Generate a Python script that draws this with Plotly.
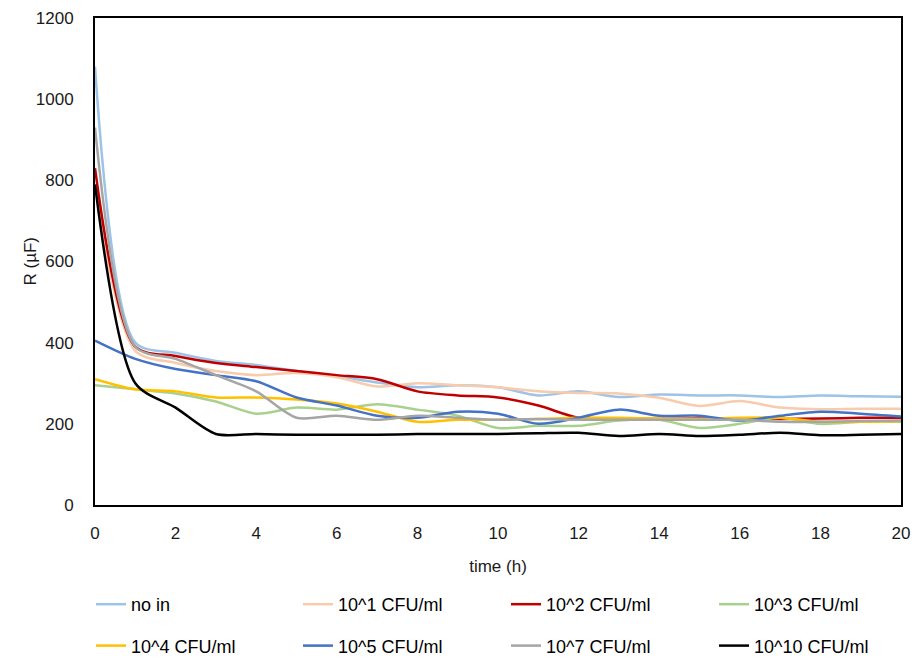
import plotly.graph_objects as go

time_h = list(range(0, 21))

no_in   = [1080, 400, 375, 355, 345, 330, 318, 302, 290, 295, 290, 270, 280, 266, 272, 270, 270, 266, 270, 268, 267]
cfu_1   = [790, 380, 350, 330, 320, 325, 315, 292, 300, 295, 290, 280, 276, 275, 264, 244, 256, 240, 236, 237, 237]
cfu_2   = [830, 390, 367, 350, 340, 330, 320, 310, 280, 270, 265, 245, 215, 213, 212, 213, 212, 212, 213, 215, 215]
cfu_3   = [295, 285, 275, 255, 225, 240, 235, 248, 235, 220, 190, 195, 195, 208, 210, 190, 200, 215, 200, 205, 205]
cfu_4   = [310, 285, 280, 265, 265, 260, 250, 230, 205, 210, 210, 212, 215, 215, 213, 212, 215, 215, 205, 205, 207]
cfu_5   = [405, 360, 335, 320, 305, 265, 245, 220, 215, 230, 225, 200, 215, 235, 220, 220, 208, 220, 230, 225, 218]
cfu_7   = [930, 390, 360, 320, 280, 215, 220, 210, 220, 215, 210, 212, 210, 210, 210, 210, 210, 205, 205, 207, 208]
cfu_10  = [790, 300, 240, 175, 175, 173, 173, 173, 175, 175, 175, 177, 178, 170, 175, 170, 173, 178, 172, 173, 175]

names = ["no in", "10^1 CFU/ml", "10^2 CFU/ml", "10^3 CFU/ml",
         "10^4 CFU/ml", "10^5 CFU/ml", "10^7 CFU/ml", "10^10 CFU/ml"]
series = [no_in, cfu_1, cfu_2, cfu_3, cfu_4, cfu_5, cfu_7, cfu_10]
colors = ["#9DC3E6", "#F8CBAD", "#C00000", "#A9D18E",
          "#FFC000", "#4472C4", "#A5A5A5", "#000000"]

# legend column placement (container pixels): line start x per column, block centre y
leg_cols = [96, 303, 511, 719]
leg_mid_y = 625

font = dict(family="Liberation Sans, Arial, sans-serif", size=17, color="#1a1a1a")
titlefont = dict(family="Liberation Sans, Arial, sans-serif", size=17, color="#1a1a1a")
legfont = dict(family="Liberation Sans, Arial, sans-serif", size=18, color="#000000")

fig = go.Figure()
layout_legends = {}
for i, (n, s, c) in enumerate(zip(names, series, colors)):
    col = i % 4
    key = "legend" if col == 0 else f"legend{col + 1}"
    fig.add_trace(go.Scatter(
        x=time_h, y=s, name=n, mode="lines",
        line=dict(color=c, width=2.5, shape="spline", smoothing=0.8),
        legend=key, legendgroup=f"g{i}",
    ))
    if key not in layout_legends:
        layout_legends[key] = dict(
            x=(leg_cols[col] - 5) / 916, xref="container", xanchor="left",
            y=1 - leg_mid_y / 657, yref="container", yanchor="middle",
            orientation="v", tracegroupgap=15,
            font=legfont, bgcolor="rgba(0,0,0,0)", itemwidth=30,
        )

fig.update_layout(
    width=916, height=657,
    margin=dict(l=95, r=15, t=18, b=152, autoexpand=False),
    plot_bgcolor="white", paper_bgcolor="white",
    font=font,
    xaxis=dict(range=[0, 20], dtick=2, showgrid=False, zeroline=False,
               showline=True, linecolor="black", linewidth=2, mirror=True,
               ticks="outside", ticklen=12, tickcolor="rgba(0,0,0,0)",
               title=dict(text="time (h)", font=titlefont, standoff=18),
               tickfont=font),
    yaxis=dict(range=[0, 1200], dtick=200, showgrid=False, zeroline=False,
               showline=True, linecolor="black", linewidth=2, mirror=True,
               ticks="outside", ticklen=16, tickcolor="rgba(0,0,0,0)",
               tickfont=font),
    annotations=[dict(text="R (µF)", textangle=-90, font=titlefont,
                      xref="paper", yref="paper", x=-65 / 806, y=0.5,
                      xanchor="center", yanchor="middle", showarrow=False)],
    showlegend=True,
    **layout_legends,
)

fig.write_html("out.html")
